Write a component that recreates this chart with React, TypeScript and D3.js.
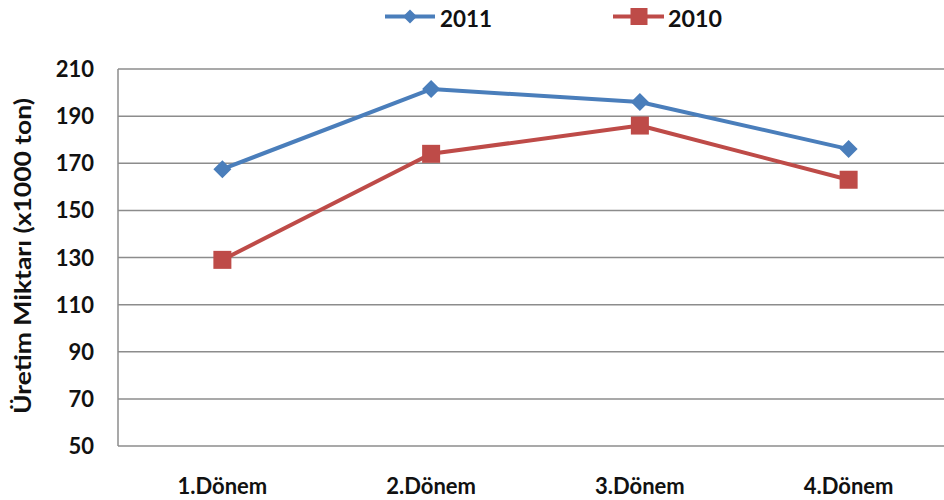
import React from "react";
import * as d3 from "d3";

const categories = ["1.Dönem", "2.Dönem", "3.Dönem", "4.Dönem"];
const series2011 = [167.5, 201.5, 196, 176];
const series2010 = [129, 174, 186, 163];
const yTicks = [50, 70, 90, 110, 130, 150, 170, 190, 210];
const yTitle = "Üretim Miktarı (x1000 ton)";

const W = 944;
const H = 500;
const BLUE = "#4A7EBB";
const RED = "#BE4B48";
const GRID = "#8c8c8c";
const FONT = "Lato, 'Open Sans', sans-serif";

export default function App() {
  const x = d3.scalePoint<string>().domain(categories).range([118, 953]).padding(0.5);
  const y = d3.scaleLinear().domain([50, 210]).range([446, 69]);
  const line = d3
    .line<number>()
    .x((_, i) => x(categories[i]) as number)
    .y((d) => y(d));

  const diamond = (cx: number, cy: number, r: number) =>
    `M${cx},${cy - r}L${cx + r},${cy}L${cx},${cy + r}L${cx - r},${cy}Z`;

  return (
    <svg
      width={W}
      height={H}
      style={{ position: "fixed", left: 0, top: 0, background: "#fff" }}
      fontFamily={FONT}
    >
      <rect x={0} y={0} width={W} height={H} fill="#fff" />
      {/* gridlines */}
      {yTicks.map((t) => (
        <line
          key={t}
          x1={118}
          x2={953}
          y1={y(t)}
          y2={y(t)}
          stroke={GRID}
          strokeWidth={1.5}
        />
      ))}
      <line x1={118} x2={118} y1={y(210)} y2={y(50)} stroke={GRID} strokeWidth={1.5} />
      {/* y tick labels */}
      {yTicks.map((t) => (
        <text
          key={"l" + t}
          x={94}
          y={y(t) + 8}
          textAnchor="end"
          fontSize={22}
          fontWeight="bold"
          fill="#111"
        >
          {t}
        </text>
      ))}
      {/* y title */}
      <text
        transform={`translate(31,256) rotate(-90)`}
        textAnchor="middle"
        fontSize={22}
        fontWeight="bold"
        fill="#111"
        textLength={316}
        lengthAdjust="spacingAndGlyphs"
      >
        {yTitle}
      </text>
      {/* x labels */}
      {categories.map((c) => (
        <text
          key={c}
          x={x(c) as number}
          y={494}
          textAnchor="middle"
          fontSize={22}
          fontWeight="bold"
          fill="#111"
        >
          {c}
        </text>
      ))}
      {/* series lines */}
      <path d={line(series2011) as string} fill="none" stroke={BLUE} strokeWidth={4} strokeLinejoin="round" />
      <path d={line(series2010) as string} fill="none" stroke={RED} strokeWidth={4} strokeLinejoin="round" />
      {series2011.map((v, i) => (
        <path key={"d" + i} d={diamond(x(categories[i]) as number, y(v), 9)} fill={BLUE} />
      ))}
      {series2010.map((v, i) => (
        <rect
          key={"s" + i}
          x={(x(categories[i]) as number) - 9}
          y={y(v) - 9}
          width={18}
          height={18}
          fill={RED}
        />
      ))}
      {/* legend */}
      <line x1={385} x2={435} y1={16.5} y2={16.5} stroke={BLUE} strokeWidth={4} />
      <path d={diamond(410, 16.5, 7)} fill={BLUE} />
      <text x={440} y={27} fontSize={23} fontWeight="bold" fill="#111" textLength={52} lengthAdjust="spacingAndGlyphs">
        2011
      </text>
      <line x1={613} x2={664} y1={16.5} y2={16.5} stroke={RED} strokeWidth={4} />
      <rect x={630.5} y={8} width={17} height={17} fill={RED} />
      <text x={668} y={27} fontSize={23} fontWeight="bold" fill="#111" textLength={54} lengthAdjust="spacingAndGlyphs">
        2010
      </text>
    </svg>
  );
}
